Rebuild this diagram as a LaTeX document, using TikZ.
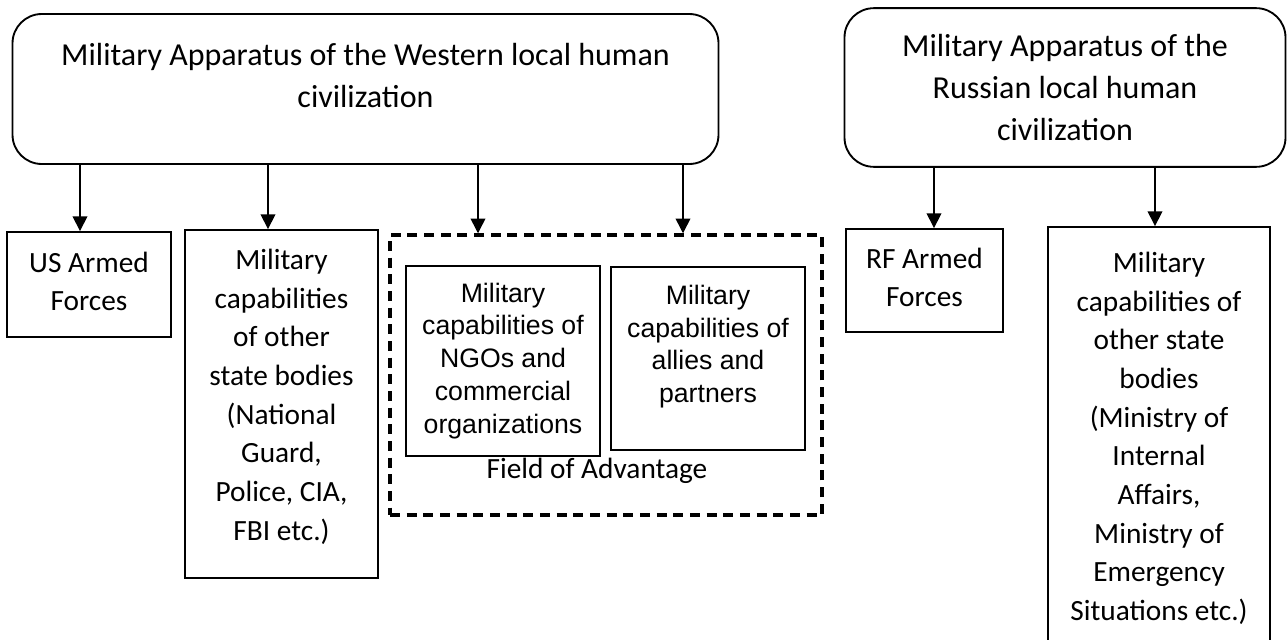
\documentclass[tikz,border=0pt]{standalone}
\usepackage{fontspec}
\setmainfont{Carlito}
\newfontfamily\arialfont{Liberation Sans}
\usetikzlibrary{arrows.meta}

\tikzset{
  apparatus/.style={draw, line width=1.4pt, rounded corners=22pt, align=center, inner sep=0pt, font=\fontsize{24}{31.5}\selectfont},
  unitbox/.style={draw, line width=1.4pt, align=center, inner sep=0pt, font=\fontsize{22}{29}\selectfont},
  innerbox/.style={draw, line width=1.2pt, align=center, inner sep=0pt, font=\arialfont\fontsize{20}{24.7}\selectfont},
  fieldbox/.style={draw, line width=2.6pt, dash pattern=on 7.5pt off 5pt, inner sep=0pt},
  downarr/.style={line width=1.1pt, -{Triangle[length=11pt,width=11pt]}},
}

\begin{document}
\begin{tikzpicture}[x=0.75pt,y=0.75pt,yscale=-1,xscale=1]
\useasboundingbox (0,0) rectangle (1288,639);

%Rounded Rect [id:westapp]
\node[apparatus, minimum width=529.5pt, minimum height=112.5pt] (westapp) at (365.5,89) {Military Apparatus of the Western local human\\civilization\rule[-20pt]{0pt}{20pt}};
%Rounded Rect [id:russapp]
\node[apparatus, minimum width=330.75pt, minimum height=119pt] (russapp) at (1065,87.5) {Military Apparatus of the\\Russian local human\\civilization};

%Shape: Rectangle [id:usforces]
\node[unitbox, minimum width=123pt, minimum height=78.75pt] (usforces) at (89,284.5) {US Armed\\Forces\rule[-5pt]{0pt}{5pt}};
%Shape: Rectangle [id:westcap]
\node[unitbox, minimum width=144.75pt, minimum height=261pt] (westcap) at (281.5,404) {Military\\capabilities\\of other\\state bodies\\(National\\Guard,\\Police, CIA,\\FBI etc.)\rule[-14pt]{0pt}{14pt}};

%Shape: Dashed Rectangle [id:advfield]
\node[fieldbox, minimum width=324pt, minimum height=210pt] (advfield) at (606,375) {};
%Shape: Rectangle [id:ngocap]
\node[innerbox, minimum width=145.5pt, minimum height=142.5pt] (ngocap) at (503,361) {Military\\capabilities of\\NGOs and\\commercial\\organizations};
%Shape: Rectangle [id:allycap]
\node[innerbox, minimum width=145.5pt, minimum height=137.25pt] (allycap) at (708,358.5) {Military\\capabilities of\\allies and\\partners\rule[-22pt]{0pt}{22pt}};
% Text Node
\node[font=\fontsize{22}{29}\selectfont, inner sep=0pt] (advlabel) at (597,471) {Field of Advantage};

%Shape: Rectangle [id:rfforces]
\node[unitbox, minimum width=117.75pt, minimum height=77.25pt] (rfforces) at (924.5,280.5) {RF Armed\\Forces\rule[-5pt]{0pt}{5pt}};
%Shape: Rectangle [id:russcap]
\node[unitbox, minimum width=166.5pt, minimum height=317.25pt] (russcap) at (1159,438.5) {Military\\capabilities of\\other state\\bodies\\(Ministry of\\Internal\\Affairs,\\Ministry of\\Emergency\\Situations etc.)};

%Arrow columns
\coordinate (colus) at (80,0);
\coordinate (colwcap) at (268,0);
\coordinate (colngo) at (478,0);
\coordinate (colally) at (683,0);
\coordinate (colrf) at (934,0);
\coordinate (colrcap) at (1155,0);

%Straight Lines
\draw[downarr] (westapp.south -| colus) -- (usforces.north -| colus);
\draw[downarr] (westapp.south -| colwcap) -- (westcap.north -| colwcap);
\draw[downarr] (westapp.south -| colngo) -- (advfield.north -| colngo);
\draw[downarr] (westapp.south -| colally) -- (advfield.north -| colally);
\draw[downarr] (russapp.south -| colrf) -- (rfforces.north -| colrf);
\draw[downarr] (russapp.south -| colrcap) -- (russcap.north -| colrcap);
\end{tikzpicture}
\end{document}
